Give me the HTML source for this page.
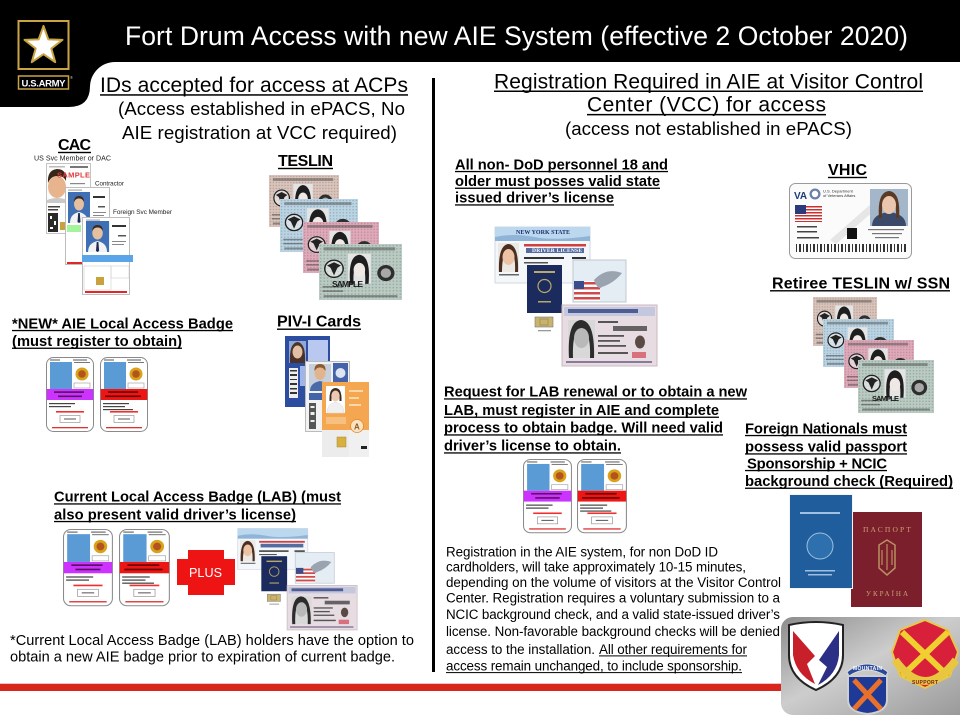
<!DOCTYPE html>
<html><head><meta charset="utf-8"><style>
html,body{margin:0;padding:0;background:#fff;width:960px;height:720px;overflow:hidden}
svg{position:absolute;left:0;top:0}
text{font-family:"Liberation Sans",Arial,sans-serif}
.b{font-weight:bold}
.sf{font-family:"Liberation Serif","DejaVu Serif",serif}
</style></head><body>
<svg width="960" height="720" viewBox="0 0 960 720">
<defs>
<pattern id="dots" width="3" height="3" patternUnits="userSpaceOnUse"><circle cx="1.5" cy="1.5" r=".7" fill="#000" opacity=".18"/></pattern>
<linearGradient id="metal" x1="0" y1="0" x2="1" y2="1"><stop offset="0" stop-color="#8c8c8c"/><stop offset=".45" stop-color="#cdcdcd"/><stop offset="1" stop-color="#979797"/></linearGradient>
<g id="tes">
<rect width="72" height="52" fill="url(#dots)"/>
<rect x="4" y="3" width="62" height="3" fill="#444" opacity=".45"/>
<circle cx="13" cy="23" r="9" fill="#eee" opacity=".6"/>
<circle cx="13" cy="23" r="8" fill="none" stroke="#222" stroke-width="1.3"/>
<path d="M7,20 L13,17 L19,20 L16,22 L13,29 L10,22 Z" fill="#222"/>
<rect x="25" y="9" width="20" height="28" fill="#e4e4e4"/>
<path d="M27,37 Q25,11 35,10 Q45,11 43,37 L40,37 Q41,19 35,18 Q29,19 30,37 Z" fill="#1e1e1e"/>
<ellipse cx="35" cy="24" rx="5" ry="6.5" fill="#efe8e4"/>
<circle cx="58" cy="27" r="7.5" fill="#2e2e2e"/>
<circle cx="58" cy="27" r="4.5" fill="#a8a8a8"/>
<rect x="3" y="39" width="18" height="1.5" fill="#333" opacity=".5"/>
<rect x="3" y="43" width="18" height="1.5" fill="#333" opacity=".5"/>
<rect x="4" y="47.5" width="64" height="2" fill="#333" opacity=".45"/>
</g>
<g id="bbase">
<rect x="0.5" y="0.5" width="47" height="74" rx="7" fill="#fff" stroke="#8a8a8a"/>
<rect x="4" y="2.5" width="10" height="1" fill="#555"/>
<rect x="27" y="2.5" width="14" height="1" fill="#555"/>
<rect x="28" y="5" width="16" height="1" fill="#777"/>
<rect x="4" y="5" width="22" height="27" fill="#5b9bd5"/>
<circle cx="36" cy="17" r="6.5" fill="#d9a21b"/>
<circle cx="36" cy="17" r="3.8" fill="#b3541e"/>
<rect x="28" y="26" width="16" height="5" fill="#fff" stroke="#999" stroke-width=".6"/>
<rect x="3" y="46" width="26" height="1.2" fill="#444"/>
<rect x="3" y="49" width="22" height="1.2" fill="#444"/>
<rect x="10" y="54" width="28" height="1.6" fill="#f03030"/>
<rect x="14" y="58.5" width="20" height="7" fill="#fff" stroke="#888" stroke-width=".6"/>
<rect x="18" y="61.5" width="12" height="1" fill="#555"/>
<rect x="6" y="70" width="36" height="1.3" fill="#e03030"/>
</g>
<g id="badgeM">
<use href="#bbase"/>
<rect x="0.8" y="32" width="46.4" height="11" fill="#cc33ff"/>
<rect x="8" y="34.3" width="30" height="1.6" fill="#5a1060"/>
<rect x="12" y="38.5" width="24" height="1.6" fill="#5a1060"/>
</g>
<g id="badgeR">
<use href="#bbase"/>
<rect x="0.8" y="32" width="46.4" height="11" fill="#ee1515"/>
<rect x="8" y="34.3" width="30" height="1.6" fill="#600"/>
<rect x="5" y="38.5" width="36" height="1.6" fill="#600"/>
<rect x="3" y="52" width="30" height="1.2" fill="#444"/>
</g>
<g id="man">
<rect width="22" height="31" fill="#3f70b6"/>
<path d="M2,31 Q2,22 11,20 Q20,22 20,31Z" fill="#f2f2f2"/>
<path d="M10.2,21 L11.8,21 L12.5,30 L11,31 L9.5,30Z" fill="#1d2a55"/>
<ellipse cx="11" cy="12" rx="5" ry="6.5" fill="#e4c0a0"/>
<path d="M6,10 Q6,4 11,4 Q16,4 16,10 Q14,6 11,6.5 Q8,6 6,10Z" fill="#3a2a1e"/>
</g>
<g id="lic">
<rect x="1" y="2" width="95" height="56" fill="#f4f7fa" stroke="#d0d8e0"/>
<rect x="1" y="2" width="95" height="14" fill="#bcd8ee"/>
<path d="M1,12 Q20,8 40,12 T96,11 L96,16 L1,16Z" fill="#8fb4d8"/>
<rect x="4" y="18" width="21" height="29" fill="#ece8e4"/>
<path d="M5,47 Q4,20 14.5,19 Q25,20 24,47 L21,47 Q22,27 14.5,26 Q8,27 8,47Z" fill="#4a2e22"/>
<ellipse cx="14.5" cy="32" rx="6" ry="8" fill="#ecc4a4"/>
<rect x="5" y="49" width="20" height="1.5" fill="#666"/>
<rect x="30" y="19" width="62" height="2.5" fill="#d04040"/>
<rect x="32" y="23" width="58" height="5" fill="#2a4a8a" opacity=".8"/>
<rect x="30" y="32" width="40" height="2" fill="#333"/>
<rect x="78" y="32" width="14" height="2" fill="#333"/>
<rect x="30" y="37" width="24" height="1.5" fill="#555"/>
<circle cx="89" cy="42" r="2" fill="#d03030"/>
<rect x="79" y="35" width="53" height="42" fill="#e4ecf4" stroke="#c0c8d0"/>
<rect x="80" y="56" width="26" height="20" fill="#fff"/>
<rect x="80" y="57" width="26" height="2.5" fill="#d04a4a"/>
<rect x="80" y="62" width="26" height="2.5" fill="#d04a4a"/>
<rect x="80" y="67" width="26" height="2.5" fill="#d04a4a"/>
<rect x="80" y="72" width="26" height="2.5" fill="#d04a4a"/>
<rect x="80" y="56" width="10" height="8" fill="#3a4c8a"/>
<path d="M100,55 Q112,42 128,48 Q120,58 108,62 Q104,66 100,55Z" fill="#9aa4b0"/>
<rect x="33" y="40" width="35" height="48" fill="#1c2b5e"/>
<rect x="40" y="46" width="21" height="2" fill="#b9a86a"/>
<circle cx="50.5" cy="61" r="6.5" fill="none" stroke="#b9a86a" stroke-width="1.2"/>
<rect x="44" y="76" width="13" height="1.5" fill="#b9a86a"/>
<rect x="41" y="92" width="18" height="10" fill="#cbb46a" stroke="#777" stroke-width=".6"/>
<rect x="46" y="94" width="8" height="6" fill="none" stroke="#777" stroke-width=".5"/>
<rect x="44" y="105" width="13" height="1.3" fill="#999"/>
<rect x="68" y="80" width="95" height="61" fill="#e6dce2" stroke="#c8b8c0"/>
<rect x="70" y="82" width="91" height="9" fill="#c4c8de"/>
<rect x="74" y="84" width="70" height="4" fill="#2a3a7a" opacity=".75"/>
<rect x="74" y="95" width="27" height="38" fill="#d8d8d8"/>
<path d="M75,133 Q73,96 87,95 Q101,96 100,133 L96,133 Q97,105 87,104 Q78,105 79,133Z" fill="#2c2c2c"/>
<ellipse cx="87.5" cy="113" rx="7.5" ry="10" fill="#b9b9b9"/>
<rect x="104" y="96" width="20" height="2" fill="#555"/>
<rect x="119" y="101" width="34" height="5" fill="#444" opacity=".8"/>
<rect x="104" y="110" width="26" height="1.8" fill="#555"/>
<rect x="104" y="115" width="22" height="1.8" fill="#555"/>
<rect x="104" y="120" width="28" height="1.8" fill="#555"/>
<rect x="104" y="127" width="30" height="2" fill="#555"/>
<ellipse cx="146" cy="117" rx="5" ry="6.5" fill="#5a4a44"/>
<rect x="138" y="127" width="14" height="6" fill="#d8707e"/>
<rect x="72" y="136" width="86" height="2" fill="#8a7a9a"/>
</g>
</defs>

<!-- header -->
<rect x="0" y="0" width="960" height="62" fill="#000"/>
<path d="M0,0 H90 V86 Q90,107 69,107 H0Z" fill="#000"/>
<path d="M90,62 L115,62 A25,25 0 0 0 90,87Z" fill="#000"/>
<rect x="18.5" y="21" width="50" height="48" fill="#000" stroke="#c9a443" stroke-width="2"/>
<polygon points="43.5,26 48.32,39.37 62.52,39.82 51.3,48.53 55.26,62.18 43.5,54.2 31.74,62.18 35.7,48.53 24.48,39.82 38.68,39.37" fill="#fff" stroke="#c9a443" stroke-width="2" stroke-linejoin="round"/>
<rect x="18.5" y="76" width="50" height="13" fill="#000" stroke="#c9a443" stroke-width="1.5"/>
<text x="21.5" y="86.5" font-size="9.5" class="b" fill="#fff" textLength="44">U.S.ARMY</text>
<text x="70" y="79" font-size="4" fill="#ccc">®</text>
<text x="125" y="45" font-size="26.5" fill="#fff" textLength="783">Fort Drum Access with new AIE System (effective 2 October 2020)</text>

<!-- divider and red bar -->
<rect x="432" y="78" width="3" height="594" fill="#000"/>
<rect x="0" y="683" width="790" height="1" fill="#f0c0c0"/>
<rect x="0" y="684" width="790" height="7" fill="#d9261c"/>

<!-- CAC cards -->
<rect x="46.5" y="163.5" width="44" height="70" fill="#fdfdfd" stroke="#c4c4c4"/>
<rect x="49" y="166" width="16" height="1.5" fill="#bbb"/>
<ellipse cx="57" cy="187" rx="9" ry="11" fill="#e7b48e"/>
<path d="M48,183 Q47,170 57,169 Q67,169 66,181 Q63,175 57,176 Q51,176 48,183Z" fill="#3a2618"/>
<path d="M47,200 Q57,196 67,200 L67,203 L47,203Z" fill="#c9c9c9"/>
<rect x="70" y="166" width="18" height="2" fill="#777"/>
<rect x="70" y="183" width="15" height="1.2" fill="#888"/>
<rect x="70" y="187" width="12" height="1.2" fill="#888"/>
<rect x="48" y="206" width="12" height="1.5" fill="#444"/>
<rect x="48" y="209" width="10" height="1.5" fill="#444"/>
<rect x="48" y="213" width="10" height="19" fill="#2a2a2a"/>
<rect x="50" y="216" width="2" height="3" fill="#fff"/><rect x="54" y="221" width="2" height="4" fill="#fff"/><rect x="50" y="227" width="3" height="2" fill="#fff"/>
<rect x="60" y="222" width="7" height="8" fill="#c8a040"/>
<text x="57" y="177.5" font-size="7.5" class="b" fill="#e03a3a" textLength="33">SAMPLE</text>

<rect x="65.5" y="187.5" width="44" height="77" fill="#fff" stroke="#bdbdbd"/>
<rect x="68" y="189.5" width="14" height="1.2" fill="#aaa"/>
<use href="#man" transform="translate(68,192)"/>
<rect x="93" y="196" width="12" height="2" fill="#333"/>
<rect x="98" y="206" width="7" height="1.5" fill="#555"/>
<rect x="93" y="212" width="13" height="1" fill="#888"/>
<rect x="93" y="215" width="11" height="1" fill="#888"/>
<rect x="67" y="225" width="14" height="7" fill="#a4f49c"/>
<rect x="67" y="262" width="32" height="2" fill="#e02828"/>

<rect x="82.5" y="217.5" width="47" height="77" fill="#fff" stroke="#bdbdbd"/>
<rect x="86" y="219.5" width="14" height="1.2" fill="#aaa"/>
<use href="#man" transform="translate(86,221) scale(1.05,1)"/>
<rect x="112" y="225" width="14" height="2" fill="#333"/>
<rect x="118" y="235" width="8" height="1.5" fill="#555"/>
<rect x="112" y="241" width="14" height="1" fill="#888"/>
<rect x="112" y="244" width="12" height="1" fill="#888"/>
<rect x="82" y="255" width="51" height="7" fill="#5ca4e8"/>
<rect x="84" y="266" width="27" height="24" fill="none" stroke="#cfcfcf" stroke-width=".6"/>
<rect x="111" y="266" width="18" height="12" fill="none" stroke="#cfcfcf" stroke-width=".6"/>
<rect x="96" y="277" width="8" height="8" fill="#c9a23e"/>
<rect x="85" y="291" width="42" height="2" fill="#e02828"/>

<!-- TESLIN left -->
<g transform="translate(269,175) scale(0.972,1)"><rect width="72" height="52" fill="#d9c3ba"/><use href="#tes"/></g>
<g transform="translate(280,199) scale(1.083,1.02)"><rect width="72" height="52" fill="#bad4e4"/><use href="#tes"/></g>
<g transform="translate(303,222) scale(1.055,0.98)"><rect width="72" height="52" fill="#dfa9b9"/><use href="#tes"/></g>
<g transform="translate(319,244) scale(1.153,1.077)"><rect width="72" height="52" fill="#b9cbc2"/><use href="#tes"/></g>
<text x="332" y="287" font-size="8.5" class="b" fill="#1a1a1a" textLength="31">SAMPLE</text>

<!-- TESLIN right (retiree) -->
<g transform="translate(813,297) scale(0.889,0.942)"><rect width="72" height="52" fill="#d9c3ba"/><use href="#tes"/></g>
<g transform="translate(823,319) scale(0.986,0.923)"><rect width="72" height="52" fill="#bad4e4"/><use href="#tes"/></g>
<g transform="translate(844,340) scale(0.972,0.923)"><rect width="72" height="52" fill="#dfa9b9"/><use href="#tes"/></g>
<g transform="translate(858,360) scale(1.056,1.02)"><rect width="72" height="52" fill="#b9cbc2"/><use href="#tes"/></g>
<text x="872" y="401" font-size="7.5" class="b" fill="#1a1a1a" textLength="27">SAMPLE</text>

<!-- badges -->
<use href="#badgeM" transform="translate(46,357)"/>
<use href="#badgeR" transform="translate(100,357)"/>
<use href="#badgeM" transform="translate(63,529) scale(1.04,1.03)"/>
<use href="#badgeR" transform="translate(119,529) scale(1.06,1.03)"/>
<use href="#badgeM" transform="translate(523,459) scale(1.02,0.99)"/>
<use href="#badgeR" transform="translate(577,459) scale(1.04,0.99)"/>

<!-- PIV cards -->
<rect x="285" y="336" width="45" height="71" fill="#2d4ea0"/>
<rect x="289" y="341" width="17" height="22" fill="#8fa8d8"/>
<path d="M290,363 Q289,343 297.5,342 Q306,343 305,363Z" fill="#4a3228"/>
<ellipse cx="297.5" cy="352" rx="5" ry="6.5" fill="#e3c0a4"/>
<rect x="308" y="340" width="20" height="22" fill="#b8c8f0"/>
<rect x="289" y="368" width="9" height="30" fill="#eee"/>
<rect x="290" y="370" width="7" height="1.5" fill="#333"/><rect x="290" y="374" width="7" height="2" fill="#333"/><rect x="290" y="379" width="7" height="1" fill="#333"/><rect x="290" y="383" width="7" height="2" fill="#333"/><rect x="290" y="388" width="7" height="1.5" fill="#333"/><rect x="290" y="392" width="7" height="2" fill="#333"/>
<rect x="300" y="366" width="5" height="20" fill="#9fb4e8"/>

<rect x="305.5" y="361.5" width="44" height="70" fill="#f2f2f2" stroke="#bbb"/>
<rect x="309" y="364" width="22" height="27" fill="#c6d0dc"/>
<path d="M310,391 Q310,383 320,381 Q330,383 330,391Z" fill="#4a6aa8"/>
<ellipse cx="320" cy="373" rx="5.5" ry="7" fill="#e2b48e"/>
<path d="M314.5,371 Q314,364 320,364 Q326,364 325.5,371 Q323,367 320,367.5 Q317,367 314.5,371Z" fill="#8a5a30"/>
<rect x="333" y="363" width="15" height="24" fill="#4563a8"/>
<circle cx="340.5" cy="373" r="5" fill="#dde4f2"/>
<rect x="309" y="393" width="22" height="7" fill="#4563a8"/>
<rect x="309" y="403" width="7" height="26" fill="#555"/>
<rect x="310.5" y="406" width="4" height="2" fill="#eee"/><rect x="310.5" y="412" width="4" height="3" fill="#eee"/><rect x="310.5" y="420" width="4" height="2" fill="#eee"/>

<rect x="322" y="382" width="47" height="75" fill="#f4a650"/>
<rect x="326" y="386" width="19" height="27" fill="#fff"/>
<path d="M327,413 Q327,404 335.5,402 Q344,404 344,413Z" fill="#f0f0f0" stroke="#ddd" stroke-width=".5"/>
<path d="M329.5,401 Q329,388 335.5,388 Q342,388 341.5,401 L339.5,401 Q340,393 335.5,393 Q331,393 331.5,401Z" fill="#3a2a20"/>
<ellipse cx="335.5" cy="396" rx="4.2" ry="5.5" fill="#ecc9b0"/>
<rect x="349" y="390" width="14" height="2" fill="#fbd7a8"/>
<rect x="349" y="397" width="10" height="2" fill="#fbd7a8"/>
<rect x="349" y="404" width="12" height="2" fill="#fbd7a8"/>
<rect x="326" y="417" width="20" height="7" fill="#f8c080"/>
<rect x="322" y="430" width="27" height="27" fill="#ececec"/>
<rect x="349" y="430" width="20" height="27" fill="#f0f0f0"/>
<circle cx="357" cy="426" r="6.5" fill="#fbe3c2" stroke="#e08a30" stroke-width=".8"/>
<text x="354" y="429.5" font-size="8" class="b" fill="#8a5a20">A</text>
<rect x="337" y="437" width="9" height="10" fill="#d8b040" stroke="#a88a30" stroke-width=".5"/>
<rect x="361" y="446" width="6" height="3" fill="#222"/>

<!-- PLUS -->
<path d="M188,550 H224 V559 H235 V585 H224 V595 H188 V585 H177 V559 H188Z" fill="#ef1414"/>
<text x="189" y="577" font-size="12.6" fill="#fff" textLength="33">PLUS</text>

<!-- license collages -->
<g transform="translate(237,527) scale(0.737,0.73)"><use href="#lic"/></g>
<use href="#lic" transform="translate(494,225)"/>
<text x="516" y="234" font-size="6" class="b sf" fill="#1c2e6e" textLength="54">NEW YORK STATE</text>
<text x="532" y="252" font-size="5.5" class="b sf" fill="#fff" textLength="50">DRIVER LICENSE</text>

<!-- VHIC -->
<rect x="789.5" y="183.5" width="122" height="75" rx="6" fill="#fbfbfb" stroke="#9a9a9a"/>
<text x="794" y="199" font-size="10" class="b" fill="#1c3a78">VA</text>
<circle cx="815" cy="194" r="5.5" fill="#6b7fa8"/><circle cx="815" cy="194" r="3.2" fill="#fff"/>
<text x="823" y="192.5" font-size="4" fill="#333">U.S. Department</text>
<text x="823" y="197" font-size="4" fill="#333">of Veterans Affairs</text>
<rect x="795" y="205" width="27" height="17" fill="#fff"/>
<rect x="795" y="206" width="27" height="1.5" fill="#c83030"/><rect x="795" y="209" width="27" height="1.5" fill="#c83030"/><rect x="795" y="212" width="27" height="1.5" fill="#c83030"/><rect x="795" y="215" width="27" height="1.5" fill="#c83030"/><rect x="795" y="218" width="27" height="1.5" fill="#c83030"/><rect x="795" y="221" width="27" height="1" fill="#c83030"/>
<rect x="795" y="205" width="11" height="9" fill="#2a3a7a"/>
<path d="M830,240 L880,196 L884,202 L836,244Z" fill="#e6e6e6"/>
<rect x="797" y="226" width="20" height="1.5" fill="#444"/>
<rect x="797" y="231" width="20" height="1.5" fill="#444"/>
<rect x="797" y="237" width="22" height="1.5" fill="#444"/>
<rect x="870" y="189" width="38" height="37" fill="#a3b6ca"/>
<path d="M872,226 Q872,214 889,212 Q906,214 906,226Z" fill="#3c4a6a"/>
<path d="M879,218 Q877,192 889,191 Q901,192 899,218 L896,218 Q897,198 889,198 Q881,198 882,218Z" fill="#5a3a24"/>
<ellipse cx="889" cy="205" rx="7" ry="9" fill="#e9c6ad"/>
<rect x="847" y="228" width="10" height="11" fill="#111"/>
<rect x="868" y="229" width="36" height="1.2" fill="#777"/>
<rect x="872" y="233" width="30" height="1.2" fill="#777"/>
<rect x="875" y="237" width="24" height="1.2" fill="#777"/>
<g fill="#333">
<rect x="796" y="244" width="1" height="8"/><rect x="799" y="244" width="2" height="8"/><rect x="803" y="244" width="1" height="8"/><rect x="806" y="244" width="2" height="8"/><rect x="810" y="244" width="1" height="8"/><rect x="813" y="244" width="2" height="8"/><rect x="817" y="244" width="1" height="8"/><rect x="820" y="244" width="2" height="8"/><rect x="824" y="244" width="1" height="8"/><rect x="827" y="244" width="2" height="8"/><rect x="831" y="244" width="1" height="8"/><rect x="834" y="244" width="2" height="8"/><rect x="838" y="244" width="1" height="8"/><rect x="841" y="244" width="2" height="8"/><rect x="845" y="244" width="1" height="8"/><rect x="848" y="244" width="2" height="8"/><rect x="852" y="244" width="1" height="8"/><rect x="855" y="244" width="2" height="8"/><rect x="859" y="244" width="1" height="8"/><rect x="862" y="244" width="2" height="8"/><rect x="866" y="244" width="1" height="8"/><rect x="869" y="244" width="2" height="8"/><rect x="873" y="244" width="1" height="8"/><rect x="876" y="244" width="2" height="8"/><rect x="880" y="244" width="1" height="8"/><rect x="883" y="244" width="2" height="8"/><rect x="887" y="244" width="1" height="8"/><rect x="890" y="244" width="2" height="8"/><rect x="894" y="244" width="1" height="8"/><rect x="897" y="244" width="2" height="8"/><rect x="901" y="244" width="1" height="8"/><rect x="904" y="244" width="2" height="8"/>
</g>

<!-- foreign passports -->
<rect x="851" y="512" width="71" height="95" fill="#7c1f2c"/>
<text x="863" y="532" font-size="7.5" class="sf" fill="#c8a070" textLength="48">ПАСПОРТ</text>
<path d="M879,545 L887,540 L895,545 L895,568 L887,575 L879,568Z" fill="none" stroke="#b89060" stroke-width="1.5"/>
<path d="M887,544 L887,570 M882,550 L882,565 M892,550 L892,565" stroke="#b89060" stroke-width="1.2"/>
<text x="866" y="596" font-size="7" class="sf" fill="#c8a070" textLength="42">УКРАЇНА</text>
<rect x="789" y="494" width="64" height="95" fill="#f4f4f4"/>
<rect x="790" y="495" width="62" height="93" fill="#1f5d9c"/>
<rect x="800" y="512" width="40" height="2" fill="#9fc0e0"/>
<circle cx="820" cy="546" r="13" fill="#2e6fae" stroke="#9fc0e0" stroke-width="1"/>
<rect x="805" y="570" width="30" height="1.5" fill="#9fc0e0"/>
<rect x="808" y="574" width="24" height="1.5" fill="#9fc0e0"/>

<!-- emblem image -->
<rect x="781" y="617" width="190" height="98" rx="12" fill="url(#metal)"/>
<path d="M789,625 Q816,619 843,625 L843,655 Q843,678 816,690 Q789,678 789,655Z" fill="#fff" stroke="#222" stroke-width="2"/>
<path d="M793,631 L815,656 L807,664 L815,684 Q796,674 793,655Z" fill="#c8202a"/>
<path d="M839,631 L839,655 Q837,675 818,685 L827,667 L819,660Z" fill="#2c2f86"/>
<path d="M847,672 Q867,656 888,672 L886,676 Q867,664 849,676Z" fill="#2a4a9a" stroke="#ddd" stroke-width="1"/>
<text x="853" y="670" font-size="5" class="b" fill="#fff" textLength="29">MOUNTAIN</text>
<path d="M848,676 L887,676 L887,700 Q887,712 867.5,714 Q848,712 848,700Z" fill="#1e3a96" stroke="#cfcfcf" stroke-width="2"/>
<path d="M854,680 L881,709 M881,680 L854,709" stroke="#e8702a" stroke-width="5"/>
<path d="M925,620 L948,630 L958,652 L950,676 L925,688 L900,676 L892,652 L900,630Z" fill="#d8203a" stroke="#e6c84a" stroke-width="2"/>
<path d="M902,632 L948,676 M948,632 L902,676" stroke="#f0d030" stroke-width="6"/>
<path d="M895,660 Q925,702 956,660" fill="none" stroke="#e8c640" stroke-width="8"/>
<text x="912" y="684" font-size="5" class="b" fill="#7a2020" textLength="26">SUPPORT</text>

<!-- TEXT: left column -->
<text x="100" y="92" font-size="21" textLength="308">IDs accepted for access at ACPs</text>
<rect x="100" y="94.2" width="308" height="1.5"/>
<text x="118" y="115" font-size="18.7" textLength="287">(Access established in ePACS, No</text>
<text x="122" y="139" font-size="18.7" textLength="275">AIE registration at VCC required)</text>

<text x="58" y="150" font-size="16" class="b" textLength="33">CAC</text>
<rect x="58" y="151.8" width="33" height="1.4"/>
<text x="34" y="160.5" font-size="7.1" fill="#222" textLength="77">US Svc Member or DAC</text>
<text x="95" y="185.5" font-size="6.3" fill="#222" textLength="29">Contractor</text>
<text x="113" y="214" font-size="6.4" fill="#222" textLength="59">Foreign Svc Member</text>

<text x="278" y="166" font-size="16" class="b" textLength="55">TESLIN</text>
<rect x="278" y="167.8" width="55" height="1.4"/>

<text x="12" y="328.3" font-size="14.7" class="b" textLength="221">*NEW* AIE Local Access Badge</text>
<rect x="12" y="329.9" width="221" height="1.3"/>
<text x="12" y="346" font-size="14.7" class="b" textLength="170">(must register to obtain)</text>
<rect x="12" y="347.6" width="170" height="1.3"/>

<text x="277" y="326.7" font-size="16" class="b" textLength="84">PIV-I Cards</text>
<rect x="277" y="328.5" width="84" height="1.4"/>

<text x="54" y="501.7" font-size="14.7" class="b" textLength="287">Current Local Access Badge (LAB) (must</text>
<rect x="54" y="503.3" width="287" height="1.3"/>
<text x="54" y="519.3" font-size="14.7" class="b" textLength="242">also present valid driver’s license)</text>
<rect x="54" y="520.9" width="242" height="1.3"/>

<text x="10" y="645" font-size="14.6" textLength="404">*Current Local Access Badge (LAB) holders have the option to</text>
<text x="10" y="661.7" font-size="14.6" textLength="385">obtain a new AIE badge prior to expiration of current badge.</text>

<!-- TEXT: right column -->
<text x="494" y="88.3" font-size="21" textLength="429">Registration Required in AIE at Visitor Control</text>
<rect x="494" y="90.5" width="429" height="1.5"/>
<text x="587" y="111.7" font-size="21" textLength="239">Center (VCC) for access</text>
<rect x="587" y="113.9" width="239" height="1.5"/>
<text x="565" y="135" font-size="18.7" textLength="287">(access not established in ePACS)</text>

<text x="455" y="169.3" font-size="14.7" class="b" textLength="213">All non- DoD personnel 18 and</text>
<rect x="455" y="170.9" width="213" height="1.3"/>
<text x="455" y="186" font-size="14.7" class="b" textLength="205">older must posses valid state</text>
<rect x="455" y="187.6" width="205" height="1.3"/>
<text x="455" y="202.7" font-size="14.7" class="b" textLength="159">issued driver’s license</text>
<rect x="455" y="204.3" width="159" height="1.3"/>

<text x="828" y="175" font-size="16" class="b" textLength="39">VHIC</text>
<rect x="828" y="176.8" width="39" height="1.4"/>

<text x="772" y="288.3" font-size="16" class="b" textLength="178">Retiree TESLIN w/ SSN</text>
<rect x="770" y="290.1" width="180" height="1.4"/>

<text x="444" y="396.7" font-size="14.7" class="b" textLength="303">Request for LAB renewal or to obtain a new</text>
<rect x="444" y="398.3" width="303" height="1.3"/>
<text x="444" y="415" font-size="14.7" class="b" textLength="275">LAB, must register in AIE and complete</text>
<rect x="444" y="416.6" width="275" height="1.3"/>
<text x="444" y="432.7" font-size="14.7" class="b" textLength="279">process to obtain badge. Will need valid</text>
<rect x="444" y="434.3" width="279" height="1.3"/>
<text x="444" y="450.7" font-size="14.7" class="b" textLength="177">driver’s license to obtain.</text>
<rect x="444" y="452.3" width="177" height="1.3"/>

<text x="745" y="433.3" font-size="14.8" class="b" textLength="162">Foreign Nationals must</text>
<rect x="745" y="434.9" width="162" height="1.3"/>
<text x="745" y="451.7" font-size="14.8" class="b" textLength="162">possess valid passport</text>
<rect x="745" y="453.3" width="162" height="1.3"/>
<text x="747" y="468.3" font-size="14.8" class="b" textLength="140">Sponsorship + NCIC</text>
<rect x="745" y="469.9" width="142" height="1.3"/>
<text x="745" y="486" font-size="14.8" class="b" textLength="208">background check (Required)</text>
<rect x="745" y="487.6" width="208" height="1.3"/>

<text x="446" y="556.5" font-size="13.4" textLength="272">Registration in the AIE system, for non DoD ID</text>
<text x="446" y="571.7" font-size="13.4" textLength="300">cardholders,  will take approximately 10-15 minutes,</text>
<text x="446" y="587" font-size="13.4" textLength="335">depending on the volume of visitors at the Visitor Control</text>
<text x="446" y="602.7" font-size="13.4" textLength="334">Center. Registration requires a voluntary submission to a</text>
<text x="446" y="619" font-size="13.4" textLength="334">NCIC background check, and a valid state-issued driver’s</text>
<text x="446" y="636" font-size="13.4" textLength="334">license. Non-favorable  background checks will be denied</text>
<text x="446" y="654" font-size="13.4" textLength="149">access to the installation.</text>
<text x="599" y="654" font-size="13.4" textLength="148">All other requirements for</text>
<rect x="599" y="655.4" width="148" height="1"/>
<text x="446" y="670.7" font-size="13.4" textLength="296">access remain unchanged, to include sponsorship.</text>
<rect x="446" y="672.1" width="296" height="1"/>
</svg>
</body></html>
